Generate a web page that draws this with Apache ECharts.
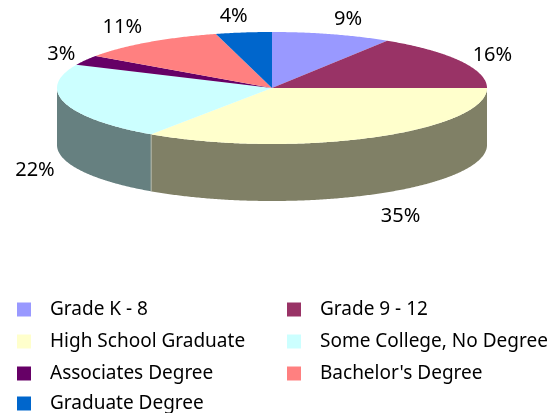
<!DOCTYPE html>
<html>
<head>
<meta charset="utf-8">
<style>
  html, body { margin: 0; padding: 0; background: #fff; }
  #chart { width: 554px; height: 413px; }
</style>
<script src="https://cdn.jsdelivr.net/npm/echarts@6/dist/echarts.min.js"></script>
</head>
<body>
<div id="chart"></div>
<script>
  var categories = ['Grade K - 8', 'Grade 9 - 12', 'High School Graduate', 'Some College, No Degree', 'Associates Degree', "Bachelor's Degree", 'Graduate Degree'];
  var shares = [9.0, 16.0, 34.5, 22.3, 2.9, 11.1, 4.2];
  var colors = ['#9999FF', '#993366', '#FFFFCC', '#CCFFFF', '#660066', '#FF8080', '#0066CC'];
  var wallColors = ['#4C4C80', '#4C1933', '#808066', '#668080', '#330033', '#804040', '#003366'];

  // pie geometry
  var cx = 272, cy = 88, rx = 215, ry = 56, depth = 57;
  var font = 'Noto Sans';
  // label shift from the slice's rim point
  var labelShift = [[16, -15], [32, -6], [28, 22], [-30, 10], [-24, -6], [-26, -15], [-10, -16]];

  var total = shares.reduce(function (a, b) { return a + b; }, 0);

  function rim(deg, drop) {
    var t = deg * Math.PI / 180;
    return [cx + rx * Math.sin(t), cy - ry * Math.cos(t) + (drop || 0)];
  }

  function arc(from, to, drop) {
    var pts = [];
    for (var d = from; d < to; d += 0.5) pts.push(rim(d, drop));
    pts.push(rim(to, drop));
    return pts;
  }

  function renderSlice(index) {
    return function (params, api) {
      var before = shares.slice(0, index).reduce(function (a, b) { return a + b; }, 0);
      var start = before / total * 360;
      var end = (before + api.value(0)) / total * 360;
      var mid = (start + end) / 2;
      var children = [];

      // side wall, front half only
      var wallFrom = Math.max(start, 90), wallTo = Math.min(end, 270);
      if (wallFrom < wallTo) {
        children.push({
          type: 'polygon',
          shape: { points: arc(wallFrom, wallTo, 0).concat(arc(wallFrom, wallTo, depth).reverse()) },
          style: { fill: wallColors[index] }
        });
        if (wallFrom > 90) {
          var a = rim(wallFrom, 0), b = rim(wallFrom, depth);
          children.push({
            type: 'line',
            shape: { x1: a[0], y1: a[1], x2: b[0], y2: b[1] },
            style: { stroke: '#B4B8A8', lineWidth: 1 }
          });
        }
      }

      children.push({
        type: 'polygon',
        shape: { points: [[cx, cy]].concat(arc(start, end, 0)) },
        style: { fill: colors[index] }
      });

      var anchor = rim(mid, mid > 90 && mid < 270 ? depth : 0);
      children.push({
        type: 'text',
        x: anchor[0] + labelShift[index][0],
        y: anchor[1] + labelShift[index][1],
        style: {
          text: Math.round(api.value(0)) + '%',
          fill: '#000',
          font: '20px "' + font + '"',
          align: 'center',
          verticalAlign: 'middle'
        }
      });
      return { type: 'group', children: children };
    };
  }

  function legendColumn(names, left, top) {
    return {
      orient: 'vertical',
      left: left,
      top: top,
      padding: 0,
      data: names,
      icon: 'rect',
      itemWidth: 14,
      itemHeight: 14,
      itemGap: 13,
      selectedMode: false,
      textStyle: { fontFamily: font, fontSize: 19, color: '#000', padding: [0, 0, 0, 14], lineHeight: 18 }
    };
  }

  var chart = echarts.init(document.getElementById('chart'), null, { renderer: 'canvas' });
  chart.setOption({
    animation: false,
    backgroundColor: '#fff',
    legend: [
      // last row sits in its own legend, the column would wrap at the window's bottom edge
      legendColumn(categories.slice(0, 6).filter(function (c, i) { return i % 2 === 0; }), 17, 300),
      legendColumn(categories.filter(function (c, i) { return i % 2 === 1; }), 287, 300),
      legendColumn(categories.slice(6), 17, 394)
    ],
    series: categories.map(function (name, i) {
      return {
        type: 'custom',
        name: name,
        coordinateSystem: 'none',
        silent: true,
        itemStyle: { color: colors[i] },
        renderItem: renderSlice(i),
        data: [[shares[i]]]
      };
    })
  });
</script>
</body>
</html>
